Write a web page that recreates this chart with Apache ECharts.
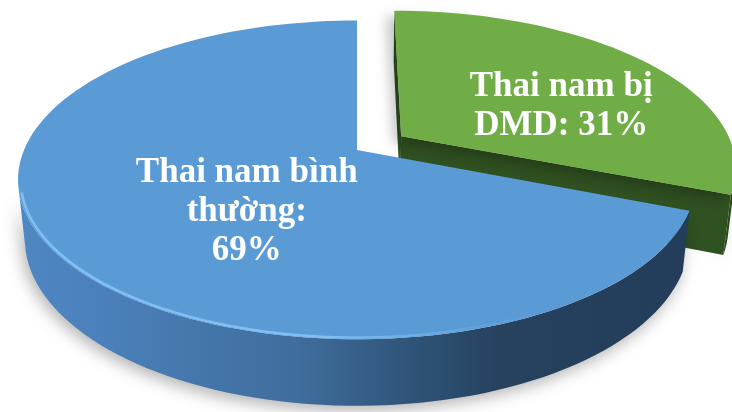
<!DOCTYPE html>
<html>
<head>
<meta charset="utf-8">
<script src="https://cdn.jsdelivr.net/npm/echarts@6/dist/echarts.min.js"></script>
<style>
  html, body { margin: 0; padding: 0; background: #ffffff; }
  #chart { width: 732px; height: 412px; }
</style>
</head>
<body>
<div id="chart"></div>
<script>
// Slices, clockwise from 12 o'clock
const categories = ['Thai nam bị DMD', 'Thai nam bình thường'];
const values = [31, 69];
// Label lines; {v} is replaced with the slice value
const labelLines = [
  ['Thai nam bị', 'DMD: {v}%'],
  ['Thai nam bình', 'thường:', '{v}%']
];

// ---- look of each slice ----
const sliceStyle = [
  { // DMD slice (pulled out)
    explode: 0.163,
    top: '#70ad47',
    radial: '#2f5020',
    side: [[0, '#3a6126'], [0.6, '#2f5020'], [1, '#2b4a1c']],
    rim: ['rgba(150,205,110,0.4)', 'rgba(150,205,110,0)'],
    topShadow: { shadowBlur: 12, shadowColor: 'rgba(0,0,0,0.22)', shadowOffsetX: -8, shadowOffsetY: 6 },
    label: [0.59, 0.565]
  },
  { // normal slice
    explode: 0,
    top: '#5b9bd5',
    radial: '#3b6897',
    side: [[0, '#5089c5'], [0.14, '#4b80ba'], [0.41, '#3f6d9c'], [0.55, '#30567b'],
           [0.68, '#26425f'], [1, '#223c59']],
    rim: ['rgba(135,198,250,0.85)', 'rgba(110,175,235,0.0)'],
    topShadow: null,
    label: [0.44, 0.472]
  }
];

// ---- perspective camera for the tilted disc ----
const CX = 357, CY = 150;            // screen position of the disc centre
const SCALE = 1575, DIST = 4.73;
const TILT = 27.5 * Math.PI / 180;
const sT = Math.sin(TILT), cT = Math.cos(TILT);
const THICK = 0.2;
const CAM = [0, DIST * sT, DIST * cT];

function project(x, y, z) {
  const vx = x, vy = y - CAM[1], vz = z - CAM[2];
  const depth = -vy * sT - vz * cT;
  const up = vy * cT - vz * sT;
  return [CX + SCALE * vx / depth, CY - SCALE * up / depth];
}
function rimPoint(off, th, r, y) {
  return [off[0] + r * Math.sin(th), y, off[1] - r * Math.cos(th)];
}

const total = values.reduce((a, b) => a + b, 0);
const angles = [];
(function () {
  let a = 0;
  values.forEach(v => {
    const b = a + v / total * Math.PI * 2;
    angles.push([a, b]);
    a = b;
  });
})();

// painter's order: slices further back are drawn first
const order = angles.map((a, i) => {
  const mid = (a[0] + a[1]) / 2;
  return { i, z: -Math.cos(mid) };
}).sort((p, q) => p.z - q.z).map(o => o.i);

function renderSlice(params, api) {
  const i = params.dataIndex;
  const st = sliceStyle[i];
  const [a0, a1] = angles[i];
  const mid = (a0 + a1) / 2;
  const off = [st.explode * Math.sin(mid), -st.explode * Math.cos(mid)];
  const rank = order.indexOf(i) * 10;
  const steps = Math.max(8, Math.ceil((a1 - a0) / (Math.PI * 2) * 180));
  const ths = [];
  for (let k = 0; k <= steps; k++) ths.push(a0 + (a1 - a0) * k / steps);

  const children = [];

  // outer wall: only the part turned towards the camera
  const vis = ths.filter(th => {
    const p = rimPoint(off, th, 1, 0);
    const n = [Math.sin(th), 0, -Math.cos(th)];
    return n[0] * (CAM[0] - p[0]) + n[1] * (CAM[1] - p[1]) + n[2] * (CAM[2] - p[2]) > 0;
  });
  if (vis.length > 1) {
    const pts = vis.map(th => project(...rimPoint(off, th, 1, 0)))
      .concat(vis.slice().reverse().map(th => project(...rimPoint(off, th, 1, -THICK))));
    children.push({
      type: 'polygon', z2: rank + 1,
      shape: { points: pts },
      style: {
        fill: new echarts.graphic.LinearGradient(0, 0, 732, 0,
          st.side.map(s => ({ offset: s[0], color: s[1] })), true),
        shadowBlur: 16, shadowColor: 'rgba(0,0,0,0.3)', shadowOffsetX: -3, shadowOffsetY: 5
      }
    });
  }

  // cut faces along the two radii
  [[a0, -1], [a1, 1]].forEach(([th, sgn]) => {
    const n = [sgn * Math.cos(th), 0, sgn * Math.sin(th)];
    const c = [off[0], 0, off[1]];
    const d = n[0] * (CAM[0] - c[0]) + n[2] * (CAM[2] - c[2]);
    if (d <= 0.02) return;
    const pts = [
      project(off[0], 0, off[1]),
      project(...rimPoint(off, th, 1, 0)),
      project(...rimPoint(off, th, 1, -THICK)),
      project(off[0], -THICK, off[1])
    ];
    children.push({
      type: 'polygon', z2: rank + 2,
      shape: { points: pts },
      style: { fill: st.radial }
    });
  });

  // top face
  const topPts = [project(off[0], 0, off[1])].concat(ths.map(th => project(...rimPoint(off, th, 1, 0))));
  children.push({
    type: 'polygon', z2: rank + 3,
    shape: { points: topPts },
    style: Object.assign({ fill: st.top }, st.topShadow || {})
  });

  // soft light along the front edge of the top face
  if (vis.length > 1) {
    children.push({
      type: 'polyline', z2: rank + 4,
      shape: { points: vis.map(th => project(...rimPoint(off, th, 0.993, 0))) },
      style: {
        stroke: new echarts.graphic.LinearGradient(0, 0, 732, 0,
          [{ offset: 0, color: st.rim[0] }, { offset: 0.45, color: st.rim[0] }, { offset: 0.75, color: st.rim[1] }], true),
        lineWidth: 2.5, fill: null
      }
    });
  }

  // label
  const lt = a0 + (a1 - a0) * st.label[0];
  const lp = project(...rimPoint(off, lt, st.label[1], 0));
  const txt = labelLines[i].map(s => s.replace('{v}', values[i])).join('\n');
  children.push({
    type: 'text', z2: 100,
    style: {
      text: txt, x: lp[0], y: lp[1] + 3,
      fill: '#ffffff',
      fontFamily: '"Liberation Serif", "Times New Roman", serif',
      fontWeight: 'bold', fontSize: 35, lineHeight: 39,
      align: 'center', verticalAlign: 'middle'
    }
  });

  return { type: 'group', children };
}

const chart = echarts.init(document.getElementById('chart'), null, { renderer: 'canvas' });
chart.setOption({
  backgroundColor: '#ffffff',
  animation: false,
  series: [{
    type: 'custom',
    coordinateSystem: 'none',
    silent: true,
    data: values.map((v, i) => ({ name: categories[i], value: [v, i] })),
    renderItem: renderSlice
  }]
});
</script>
</body>
</html>
